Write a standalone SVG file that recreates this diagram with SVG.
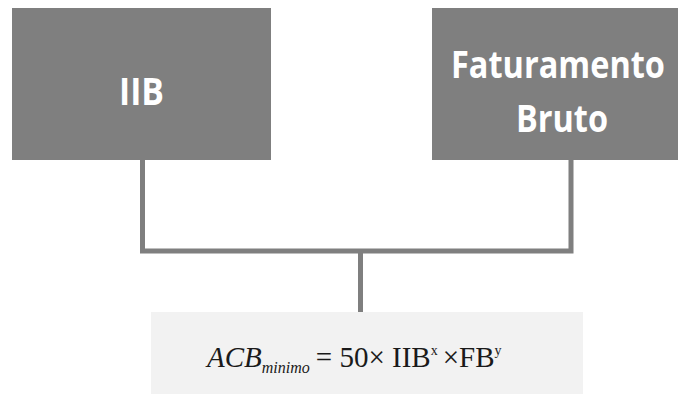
<svg xmlns="http://www.w3.org/2000/svg" width="678" height="394" viewBox="0 0 678 394">
<style>
.box{fill:#7f7f7f}
.lbl{font-family:"Open Sans","Noto Sans",sans-serif;font-weight:700;fill:#ffffff;text-anchor:middle}
.con{fill:none;stroke:#7f7f7f;stroke-width:5}
.f{font-family:"Liberation Serif","Times New Roman",serif;fill:#1a1a1a;font-size:29px}
.i{font-style:italic}
</style>
<rect width="678" height="394" fill="#ffffff"/>
<g id="node-iib">
<rect class="box" x="12" y="8" width="259" height="152"/>
<text class="lbl" x="141.5" y="104.5" font-size="38" textLength="45" lengthAdjust="spacingAndGlyphs">IIB</text>
</g>
<g id="node-fb">
<rect class="box" x="432" y="8" width="246" height="152"/>
<text class="lbl" x="558" y="77.5" font-size="37" textLength="214" lengthAdjust="spacingAndGlyphs">Faturamento</text>
<text class="lbl" x="562" y="132" font-size="37" textLength="92" lengthAdjust="spacingAndGlyphs">Bruto</text>
</g>
<g id="connectors">
<path class="con" d="M142.5,160 V251 H571 V160"/>
<path class="con" d="M360.5,251 V312"/>
</g>
<g id="node-formula">
<rect x="151" y="312" width="432" height="82" fill="#f2f2f2"/>
<text class="f" x="207" y="367"><tspan class="i">ACB</tspan><tspan class="i" font-size="16" dy="6">minimo</tspan><tspan dx="6" dy="-6">= 50× IIB</tspan><tspan font-size="14" dy="-12">x</tspan><tspan dx="5" dy="12">×FB</tspan><tspan font-size="14" dy="-12">y</tspan></text>
</g>
</svg>
